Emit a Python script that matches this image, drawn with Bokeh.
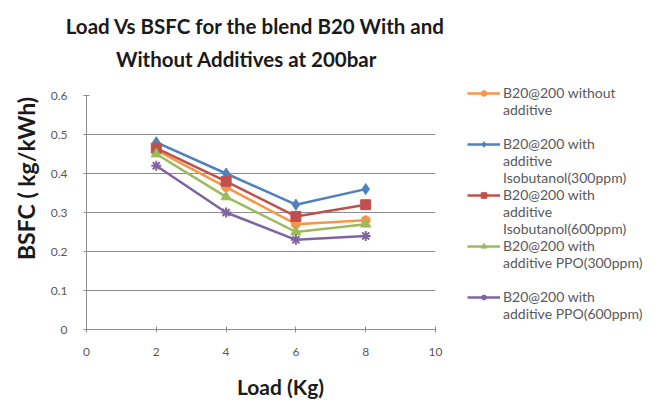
import math
from bokeh.plotting import figure
from bokeh.models import Legend, LegendItem, Range1d, FixedTicker, Label
from bokeh.layouts import row, column
from bokeh.embed import file_html
from bokeh.resources import INLINE

load = [2, 4, 6, 8]
series_labels = [
    ["B20@200 without", "additive"],
    ["B20@200 with", "additive", "Isobutanol(300ppm)"],
    ["B20@200 with", "additive", "Isobutanol(600ppm)"],
    ["B20@200 with", "additive PPO(300ppm)"],
    ["B20@200 with", "additive PPO(600ppm)"],
]
legend_gap_after = [True, False, False, True, False]
without_additive = [0.46, 0.365, 0.27, 0.28]
isobutanol_300 = [0.48, 0.40, 0.32, 0.36]
isobutanol_600 = [0.465, 0.38, 0.29, 0.32]
ppo_300 = [0.45, 0.34, 0.25, 0.27]
ppo_600 = [0.42, 0.30, 0.23, 0.24]
series_values = [without_additive, isobutanol_300, isobutanol_600, ppo_300, ppo_600]
colors = ["#F79646", "#4F81BD", "#C0504D", "#9BBB59", "#8064A2"]
markers = ["circle", "diamond", "square", "triangle", "asterisk"]
marker_sizes = [9, 11, 10, 10, 10]
x_ticks = [0, 2, 4, 6, 8, 10]
y_ticks = [0, 0.1, 0.2, 0.3, 0.4, 0.5, 0.6]
title_lines = ["Load Vs BSFC for the blend B20 With and", "Without Additives at 200bar"]
x_label = "Load (Kg)"
y_label = "BSFC ( kg/kWh)"

FONT = "Lato"
DARK = "#1a1a1a"
GREY = "#595959"
NAN = float("nan")


def strip(w, h):
    f = figure(width=w, height=h, output_backend="svg", toolbar_location=None,
               x_axis_type=None, y_axis_type=None, min_border=0, title=None,
               x_range=Range1d(0, 1), y_range=Range1d(0, 1))
    f.frame_align = False
    f.outline_line_color = None
    f.xgrid.grid_line_color = None
    f.ygrid.grid_line_color = None
    f.background_fill_color = "white"
    f.border_fill_color = "white"
    return f


# ---- title strip
tf = strip(670, 70)
for txt, cx, cy in zip(title_lines, [255, 246], [45, 12]):
    tf.add_layout(Label(x=cx, y=cy, x_units="screen", y_units="screen", text=txt,
                        text_align="center", text_baseline="middle", text_font=FONT,
                        text_font_size="20.5px", text_font_style="bold", text_color=DARK))

# ---- y label strip
yf = strip(40, 300)
yf.add_layout(Label(x=25, y=192, x_units="screen", y_units="screen", text=y_label,
                    angle=math.pi / 2, text_align="center", text_baseline="middle",
                    text_font=FONT, text_font_size="23px", text_font_style="bold",
                    text_color=DARK))

# ---- main plot
p = figure(width=405, height=300, output_backend="svg", toolbar_location=None,
           x_range=Range1d(0, 10), y_range=Range1d(0, 0.6),
           min_border_left=46, min_border_right=10, min_border_top=25,
           min_border_bottom=41, title=None)
p.outline_line_color = None
p.background_fill_color = "white"
p.border_fill_color = "white"
p.xgrid.grid_line_color = None
p.ygrid.grid_line_color = "#8c8c8c"
p.ygrid.grid_line_width = 1

for ax in (p.xaxis[0], p.yaxis[0]):
    ax.axis_line_color = "#8c8c8c"
    ax.major_tick_line_color = "#8c8c8c"
    ax.minor_tick_line_color = None
    ax.major_label_text_font = FONT
    ax.major_label_text_font_size = "12px"
    ax.major_label_text_color = GREY
    ax.major_tick_in = 3
    ax.major_tick_out = 3

p.xaxis.ticker = FixedTicker(ticks=x_ticks)
p.yaxis.ticker = FixedTicker(ticks=y_ticks)
p.yaxis.major_label_overrides = {0: "0"}
p.xaxis.major_label_standoff = 15
p.yaxis.major_label_standoff = 16

# ---- legend strip
lf = strip(225, 300)

items = []
for lines, gap, vals, c, m, s in zip(series_labels, legend_gap_after, series_values,
                                     colors, markers, marker_sizes):
    lw = 2 if m == "asterisk" else 1
    p.line(load, vals, line_color=c, line_width=2.5)
    p.scatter(load, vals, marker=m, size=s, fill_color=c, line_color=c, line_width=lw)
    r1 = lf.line(x=[NAN], y=[NAN], line_color=c, line_width=2.5)
    r2 = lf.scatter(x=[NAN], y=[NAN], marker=m, size=s - 1, fill_color=c, line_color=c,
                    line_width=lw)
    items.append(LegendItem(label=lines[0], renderers=[r1, r2]))
    for extra in lines[1:]:
        items.append(LegendItem(label=extra, renderers=[]))
    if gap:
        items.append(LegendItem(label=" ", renderers=[]))

legend = Legend(items=items, location=(22, 48), border_line_color=None,
                background_fill_alpha=0, label_text_font=FONT, label_text_font_size="14px",
                label_text_color=GREY, glyph_width=33, glyph_height=14,
                label_height=17, spacing=0, label_standoff=3, padding=0, margin=0)
lf.add_layout(legend, "center")

# ---- x label strip
bf = strip(670, 31)
bf.add_layout(Label(x=280, y=15, x_units="screen", y_units="screen", text=x_label,
                    text_align="center", text_baseline="middle", text_font=FONT,
                    text_font_size="21px", text_font_style="bold", text_color=DARK))

layout = column(tf, row(yf, p, lf), bf)
open("out.html", "w").write(file_html(layout, INLINE))
